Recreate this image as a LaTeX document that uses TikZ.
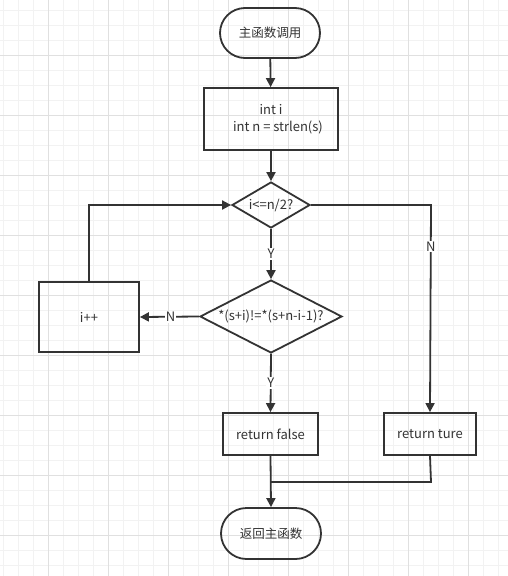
\documentclass[tikz,border=0pt]{standalone}
\usepackage{fontspec}
\setmainfont{Noto Sans CJK SC}
\usetikzlibrary{arrows.meta,shapes.geometric,shapes.misc}
\definecolor{ink}{HTML}{333333}
\definecolor{gridminor}{HTML}{F2F2F2}
\definecolor{gridmajor}{HTML}{E0E0E0}
\begin{document}
\begin{tikzpicture}[x=1pt,y=-1pt,
  every node/.style={font=\fontsize{13}{17}\selectfont, text=ink},
  term/.style={draw=ink, line width=1.8pt, rounded rectangle, minimum width=100pt, minimum height=50pt, inner sep=0pt},
  proc/.style={draw=ink, line width=1.8pt, rectangle, inner sep=0pt},
  dec/.style={draw=ink, line width=1.8pt, diamond, aspect=1.8, inner sep=0pt},
  conn/.style={draw=ink, line width=1.8pt, -{Triangle[length=9pt,width=9pt]}},
  plain/.style={draw=ink, line width=1.8pt},
  lab/.style={fill=white, inner sep=1pt}]
\useasboundingbox (0,0) rectangle (508,576);
\fill[white] (0,0) rectangle (508,576);
\foreach \x in {3,18,...,508} \draw[gridminor, line width=0.6pt] (\x,0) -- (\x,576);
\foreach \y in {10,25,...,576} \draw[gridminor, line width=0.6pt] (0,\y) -- (508,\y);
\foreach \x in {48,108,...,508} \draw[gridmajor, line width=0.8pt] (\x,0) -- (\x,576);
\foreach \y in {55,115,...,576} \draw[gridmajor, line width=0.8pt] (0,\y) -- (508,\y);

\node[term] (start) at (270,33) {\fontsize{12.5}{15}\selectfont 主函数调用};
\node[proc, minimum width=134pt, minimum height=62pt, align=center] (init) at (271,119) {int i\\\hspace*{14pt}int n = strlen(s)};
\node[dec, minimum width=78pt, minimum height=46pt] (d1) at (271,205) {};
\node at (d1) {i<=n/2?};
\node[dec, minimum width=142pt, minimum height=73pt] (d2) at (271,316.5) {};
\node at (d2) {*(s+i)!=*(s+n-i-1)?};
\node[proc, minimum width=100pt, minimum height=70pt] (inc) at (89,317) {i++};
\node[proc, minimum width=95pt, minimum height=42pt] (rf) at (270.5,434) {return false};
\node[proc, minimum width=92pt, minimum height=42pt] (rt) at (430,434) {return ture};
\node[term, minimum height=51pt] (end) at (271,533.5) {\fontsize{12.5}{15}\selectfont 返回主函数};

\coordinate (c1) at (431,205);
\coordinate (c2) at (431,482);
\coordinate (c3) at (271,482);
\coordinate (c4) at (89,205);

\draw[conn] (start) -- (init);
\draw[conn] (init) -- (d1);
\draw[conn] (d1.south) -- node[lab] {Y} (d2.north);
\draw[conn] (d2.west) -- node[lab, pos=0.48] {N} (inc.east);
\draw[conn] (inc.north) -- (c4) -- (d1.west);
\draw[conn] (d1.east) -- (c1) -- node[lab, pos=0.2] {N} (rt.north);
\draw[conn] (d2.south) -- node[lab] {Y} (rf.north);
\draw[conn] (rf.south) -- (end.north);
\draw[plain] (rt.south) -- (c2) -- (c3);
\end{tikzpicture}
\end{document}
